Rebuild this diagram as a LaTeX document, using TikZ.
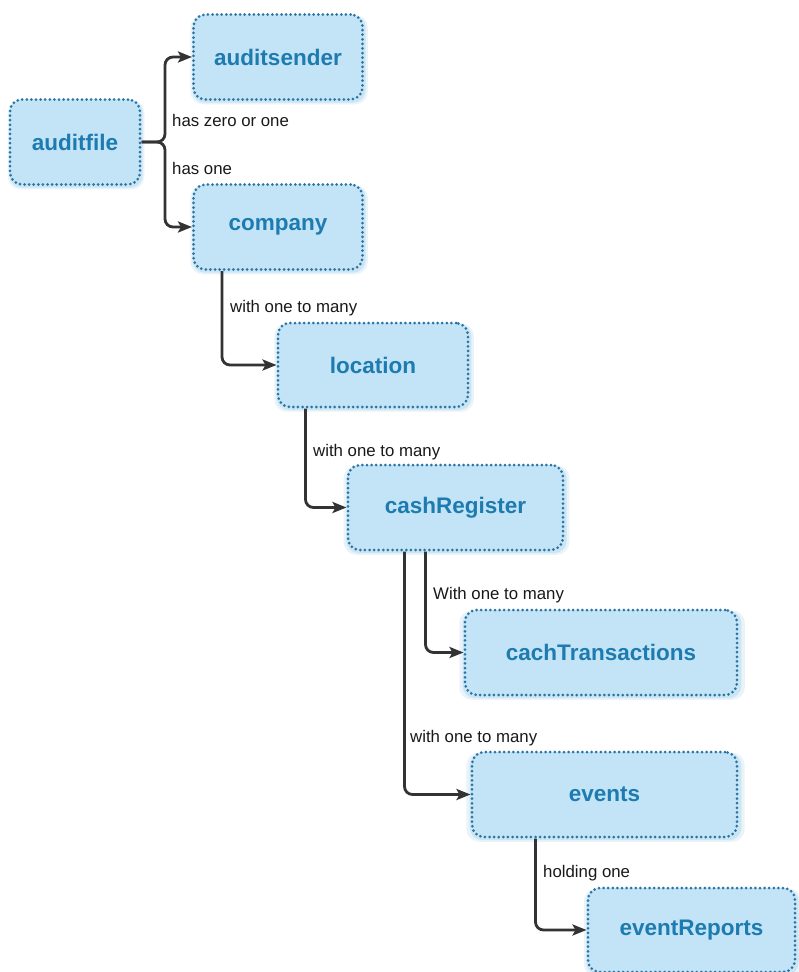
\documentclass[tikz,border=0pt]{standalone}
\usepackage{fontspec}
\setmainfont{Liberation Sans}
\usetikzlibrary{arrows.meta,shadows}
\definecolor{boxfill}{HTML}{C2E4F6}
\definecolor{boxline}{HTML}{2A74A6}
\definecolor{boxtext}{HTML}{1E7BB0}
\definecolor{glow}{HTML}{8CC6E6}
\definecolor{conncol}{HTML}{333333}
\tikzset{
  entity/.style={rectangle, rounded corners=12pt, fill=boxfill, draw=boxline,
    line width=3pt, line cap=round, dash pattern=on 0pt off 4.6pt,
    text=boxtext, font=\fontsize{22.5}{26}\selectfont\bfseries,
    general shadow={fill=glow, draw=none, opacity=0.2, shadow xshift=1pt, shadow yshift=-2.5pt, shadow scale=1.05},
    general shadow={fill=glow, draw=none, opacity=0.3, shadow xshift=1pt, shadow yshift=-2pt, shadow scale=1.025}},
  conn/.style={draw=conncol, line width=2.8pt, rounded corners=8pt,
    -{Stealth[length=14pt,width=11pt,inset=3pt]}},
  lbl/.style={anchor=west, inner sep=0pt, text=black!90, font=\fontsize{16.8}{19}\selectfont}
}
\begin{document}
\begin{tikzpicture}[x=1pt,y=-1pt]
\useasboundingbox[fill=white] (0,0) rectangle (799,972);
\node[entity, minimum width=130pt, minimum height=85pt] (auditfile) at (75,142) {auditfile};
\node[entity, minimum width=169pt, minimum height=85pt] (auditsender) at (278,57) {auditsender};
\node[entity, minimum width=169pt, minimum height=85pt] (company) at (278,227) {company};
\node[entity, minimum width=190pt, minimum height=84pt] (location) at (373,365) {location};
\node[entity, minimum width=215pt, minimum height=85pt] (cashRegister) at (455.5,507.5) {cashRegister};
\node[entity, minimum width=272pt, minimum height=85pt] (cachTransactions) at (601,652.5) {cachTransactions};
\node[entity, minimum width=265pt, minimum height=85pt] (events) at (604.5,794.5) {events};
\node[entity, minimum width=207pt, minimum height=84pt] (eventReports) at (691.5,930) {eventReports};

\coordinate (b1) at (165,142);
\draw[conn] (auditfile.east) -- (b1) |- (auditsender.west);
\draw[conn] (auditfile.east) -- (b1) |- (company.west);
\draw[conn] ([xshift=30pt]company.south west) |- (location.west);
\draw[conn] ([xshift=29pt]location.south west) |- (cashRegister.west);
\draw[conn] ([xshift=79pt]cashRegister.south west) |- (cachTransactions.west);
\draw[conn] ([xshift=58pt]cashRegister.south west) |- (events.west);
\draw[conn] ([xshift=65pt]events.south west) |- (eventReports.west);

\node[lbl] (l1) at (172,120) {has zero or one};
\node[lbl] (l2) at (172,168) {has one};
\node[lbl] (l3) at (230,308) {with one to many};
\node[lbl] (l4) at (313,452) {with one to many};
\node[lbl] (l5) at (433,595) {With one to many};
\node[lbl] (l6) at (410,738) {with one to many};
\node[lbl] (l7) at (543,873) {holding one};
\end{tikzpicture}
\end{document}
